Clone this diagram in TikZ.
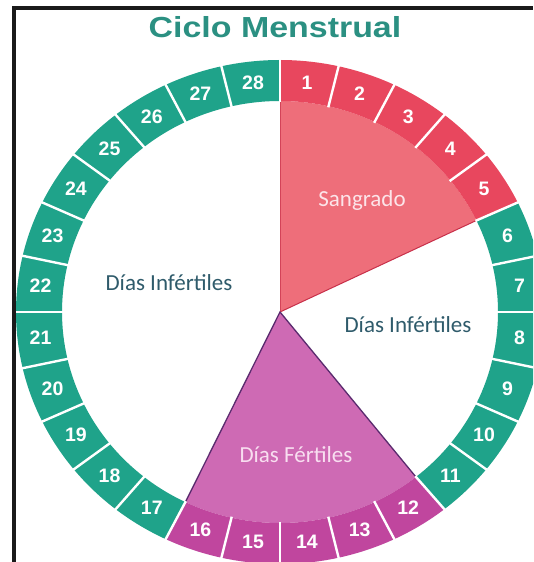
\documentclass[tikz,border=0pt]{standalone}
\usepackage{fontspec}
\setmainfont{Liberation Sans}
\newfontfamily\labfont{Carlito}
\usetikzlibrary{calc}
\definecolor{myteal}{RGB}{31,163,138}
\definecolor{ringred}{RGB}{232,71,94}
\definecolor{ringmag}{RGB}{192,70,158}
\definecolor{sangfill}{RGB}{238,110,122}
\definecolor{fertfill}{RGB}{206,106,180}
\definecolor{titlecol}{RGB}{43,144,130}
\definecolor{infcol}{RGB}{47,91,107}
\definecolor{sangtext}{RGB}{252,228,233}
\definecolor{ferttext}{RGB}{248,222,240}
\definecolor{sangline}{RGB}{200,48,74}
\definecolor{fertline}{RGB}{90,42,110}
\definecolor{framecol}{RGB}{26,26,26}
\tikzset{
  daynum/.style={text=white,font=\fontsize{19.5}{19.5}\selectfont\bfseries,inner sep=0pt},
  wedgelab/.style={font=\labfont\fontsize{23}{23}\selectfont,inner sep=0pt},
  sep/.style={white,line width=2.4pt},
}
\begin{document}
\begin{tikzpicture}[x=1pt,y=1pt]
\useasboundingbox (0,0) rectangle (533,562);
\clip (0,0) rectangle (533,562);
\fill[white] (0,0) rectangle (533,562);
\coordinate (C) at (280,250);
% wedges
\fill[sangfill] (C) -- ($(C)+(90:218pt and 211pt)$) arc[start angle=90,end angle=25.714,x radius=218pt,y radius=211pt] -- cycle;
\fill[fertfill] (C) -- ($(C)+(-51.429:218pt and 211pt)$) arc[start angle=-51.429,end angle=-115.714,x radius=218pt,y radius=211pt] -- cycle;
\draw[sangline,line width=1pt] (C) -- ($(C)+(25.714:218pt and 211pt)$);
\draw[sangline!70!sangfill,line width=1pt] (C) -- ($(C)+(90:218pt and 211pt)$);
\draw[fertline,line width=1.3pt] ($(C)+(-51.429:218pt and 211pt)$) -- (C) -- ($(C)+(-115.714:218pt and 211pt)$);
% ring
\foreach \k in {1,...,28} {
  \pgfmathsetmacro\aa{90-(\k-1)*360/28}
  \pgfmathsetmacro\ab{90-\k*360/28}
  \ifnum\k<6 \def\col{ringred}\else
    \ifnum\k>11 \ifnum\k<17 \def\col{ringmag}\else\def\col{myteal}\fi
    \else\def\col{myteal}\fi
  \fi
  \fill[\col] ($(C)+(\aa:264pt and 252pt)$) arc[start angle=\aa,end angle=\ab,x radius=264pt,y radius=252pt]
     -- ($(C)+(\ab:218pt and 211pt)$) arc[start angle=\ab,end angle=\aa,x radius=218pt,y radius=211pt] -- cycle;
}
\foreach \k in {0,...,27} {
  \pgfmathsetmacro\aa{90-\k*360/28}
  \draw[sep] ($(C)+(\aa:217pt and 210pt)$) -- ($(C)+(\aa:270pt and 258pt)$);
}
\foreach \k in {1,...,28} {
  \pgfmathsetmacro\am{90-(\k-0.5)*360/28}
  \node[daynum] (n\k) at ($(C)+(\am:241pt and 231pt)$) {\k};
}
% labels
\node[wedgelab,text=sangtext] (sang) at (362,362) {Sangrado};
\node[wedgelab,text=infcol] (infl) at (169,279) {Días Infértiles};
\node[wedgelab,text=infcol] (infr) at (408,237) {Días Infértiles};
\node[wedgelab,text=ferttext] (fert) at (296,107) {Días Fértiles};
% title
\node[text=titlecol,font=\fontsize{29}{29}\selectfont\bfseries,inner sep=0pt] (title) at (275,535) {\scalebox{1.17}[1]{Ciclo Menstrual}};
% frame
\fill[framecol] (12,0) rectangle (16,556);
\fill[framecol] (12,552) rectangle (533,556);
\end{tikzpicture}
\end{document}
